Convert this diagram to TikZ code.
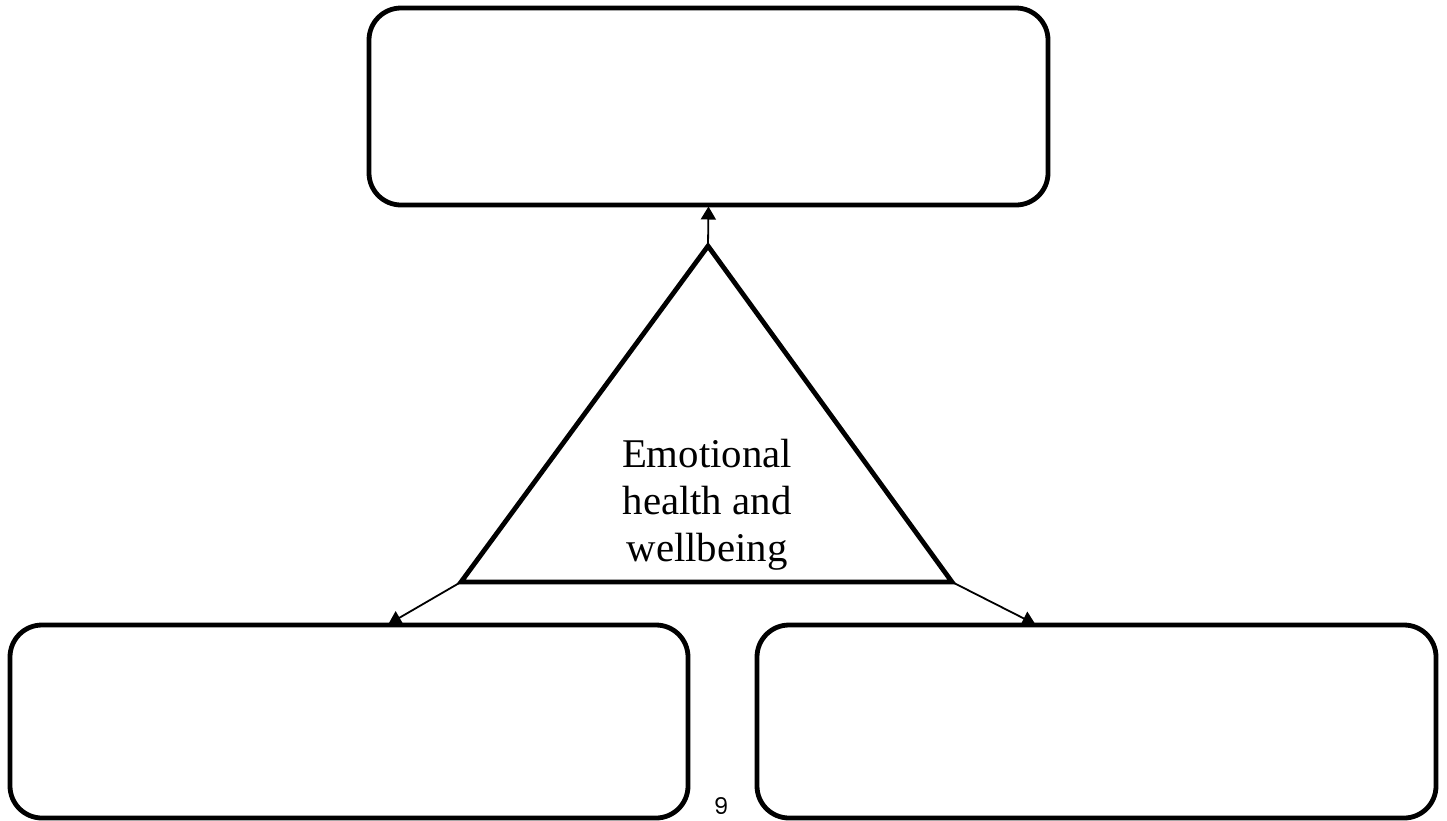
\documentclass[tikz,border=0pt]{standalone}
\usepackage{fontspec}
\setmainfont{Liberation Serif}
\newfontfamily\pagenumfont{Poppins}
\usetikzlibrary{arrows.meta,calc}
\begin{document}
\begin{tikzpicture}[x=1pt,y=-1pt,
  boxstyle/.style={draw, line width=4.8pt, rounded corners=32pt, inner sep=0pt, outer sep=0pt},
  triline/.style={line width=4.8pt, line join=miter},
  arrowline/.style={line width=1.8pt, -{Triangle[length=13pt,width=15pt]}}]
\useasboundingbox (0,0) rectangle (1447,820);
\node[boxstyle, minimum width=679pt, minimum height=197pt] (top) at (708.5,106.5) {};
\node[boxstyle, minimum width=678pt, minimum height=193pt] (botL) at (349,721.5) {};
\node[boxstyle, minimum width=679pt, minimum height=193pt] (botR) at (1096.5,721.5) {};
\coordinate (apex) at (708,246);
\coordinate (bl) at (461,582);
\coordinate (br) at (952,582);
\draw[triline] (apex) -- (bl) -- (br) -- cycle;
\node[inner sep=0pt, align=center, font=\fontsize{40.8pt}{47pt}\selectfont] (label) at (707,504.5) {Emotional\\health and\\wellbeing};
\draw[arrowline, shorten >=1.5pt] (apex) -- (top.south);
\draw[arrowline, shorten >=1.5pt] (bl) -- ($(botL.north west)!0.556!(botL.north east)$);
\draw[arrowline, shorten >=1.5pt] (br) -- ($(botR.north west)!0.412!(botR.north east)$);
\node[font=\pagenumfont\fontsize{23pt}{26pt}\selectfont, inner sep=0pt] (pnum) at (721,806) {9};
\end{tikzpicture}
\end{document}
